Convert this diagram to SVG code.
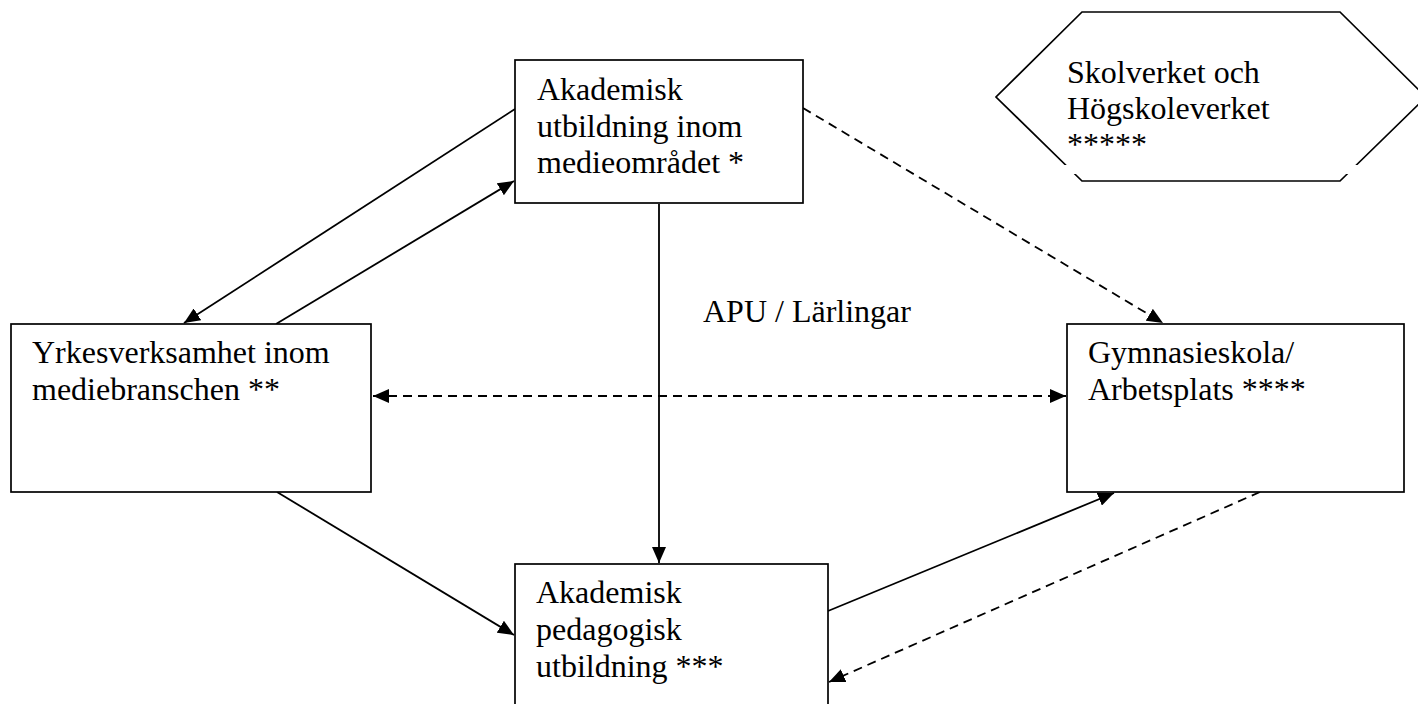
<svg xmlns="http://www.w3.org/2000/svg" width="1418" height="704" viewBox="0 0 1418 704">
<defs>
<style>
.box{fill:#fff;stroke:#000;stroke-width:1.7}
.t{font-family:"Liberation Serif","Times New Roman",serif;font-size:32px;fill:#000}
.c{fill:none;stroke:#000;stroke-width:1.8}
.d{stroke-dasharray:9 6}
</style>
<marker id="ah" viewBox="0 0 16 14" refX="16" refY="7" markerWidth="16" markerHeight="14" markerUnits="userSpaceOnUse" orient="auto-start-reverse">
<path d="M0,0 L16,7 L0,14 Z" fill="#000"/>
</marker>
</defs>
<rect width="1418" height="704" fill="#fff"/>
<g id="connectors">
<line class="c" x1="515" y1="109" x2="184" y2="323" marker-end="url(#ah)"/>
<line class="c" x1="276" y1="324" x2="514" y2="181" marker-end="url(#ah)"/>
<line class="c" x1="659" y1="204" x2="659" y2="563" marker-end="url(#ah)"/>
<line class="c d" x1="373" y1="396" x2="1066" y2="396" marker-start="url(#ah)" marker-end="url(#ah)"/>
<line class="c" x1="277" y1="492" x2="514" y2="635" marker-end="url(#ah)"/>
<line class="c" x1="828" y1="611" x2="1114" y2="493" marker-end="url(#ah)"/>
<line class="c d" x1="1260" y1="492" x2="829" y2="682" marker-end="url(#ah)"/>
<line class="c d" x1="803" y1="108" x2="1163" y2="323" marker-end="url(#ah)"/>
</g>
<g id="node-akademisk-utbildning">
<rect class="box" x="515" y="60" width="288" height="143"/>
<text class="t" x="537" y="100">Akademisk</text>
<text class="t" x="537" y="137">utbildning inom</text>
<text class="t" x="537" y="173">medieområdet *</text>
</g>
<g id="node-yrkesverksamhet">
<rect class="box" x="11" y="324" width="360" height="168"/>
<text class="t" x="32" y="363">Yrkesverksamhet inom</text>
<text class="t" x="32" y="400">mediebranschen **</text>
</g>
<g id="node-gymnasieskola">
<rect class="box" x="1067" y="324" width="337" height="168"/>
<text class="t" x="1088" y="363">Gymnasieskola/</text>
<text class="t" x="1088" y="400">Arbetsplats ****</text>
</g>
<g id="node-pedagogisk">
<rect class="box" x="515" y="564" width="313" height="150"/>
<text class="t" x="536" y="603">Akademisk</text>
<text class="t" x="536" y="640">pedagogisk</text>
<text class="t" x="536" y="677">utbildning ***</text>
</g>
<g id="node-verken">
<polygon points="1082,12 1340,12 1426,97 1340,181 1082,181 996,97" fill="#fff" stroke="#000" stroke-width="1.7"/>
<rect x="1060" y="165" width="305" height="9" fill="#fff"/>
<text class="t" x="1067" y="83">Skolverket och</text>
<text class="t" x="1067" y="119">Högskoleverket</text>
<text class="t" x="1067" y="155">*****</text>
</g>
<g id="label-apu">
<text class="t" x="703" y="322">APU / Lärlingar</text>
</g>
</svg>
